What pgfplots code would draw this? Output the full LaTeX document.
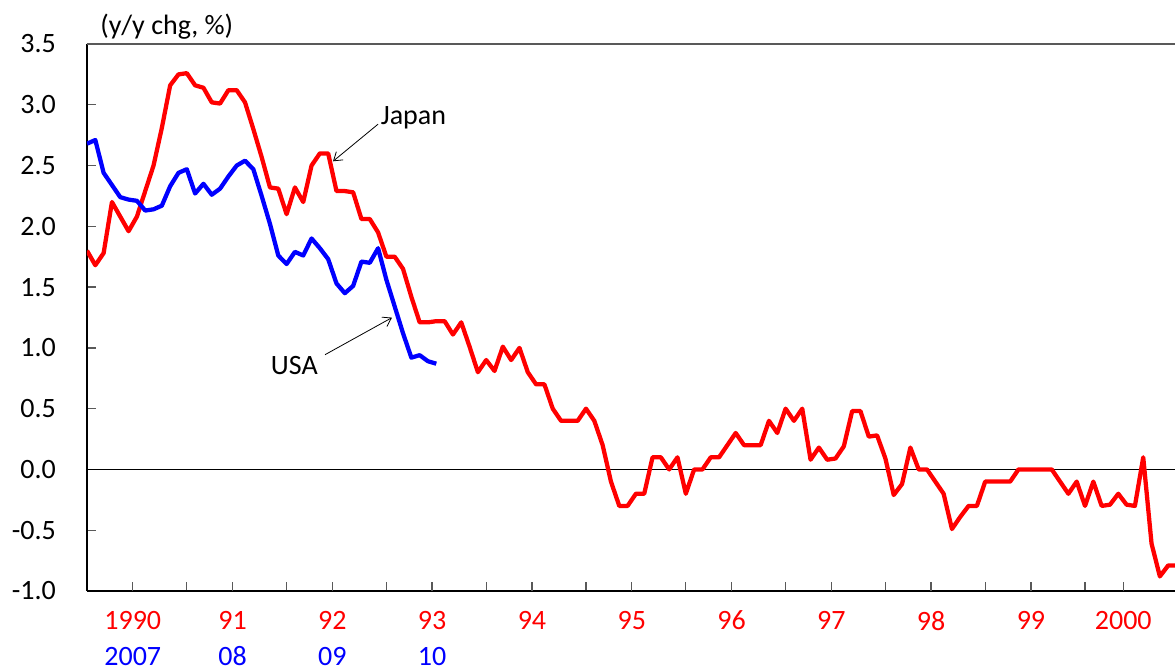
\documentclass[border=0pt]{standalone}
\usepackage{fontspec}
\setmainfont{Carlito}
\usepackage{pgfplots}
\pgfplotsset{compat=1.18}
\usetikzlibrary{arrows.meta}
\definecolor{jred}{RGB}{255,0,0}
\definecolor{ublue}{RGB}{0,0,255}
\pgfplotstableread{
i v
0 1.80
1 1.68
2 1.78
3 2.20
4 2.08
5 1.96
6 2.08
7 2.29
8 2.50
9 2.81
10 3.16
11 3.25
12 3.26
13 3.16
14 3.14
15 3.02
16 3.01
17 3.12
18 3.12
19 3.02
20 2.80
21 2.57
22 2.32
23 2.31
24 2.10
25 2.32
26 2.20
27 2.50
28 2.60
29 2.60
30 2.29
31 2.29
32 2.28
33 2.06
34 2.06
35 1.95
36 1.75
37 1.75
38 1.65
39 1.42
40 1.21
41 1.21
42 1.22
43 1.22
44 1.11
45 1.21
46 1.01
47 0.80
48 0.90
49 0.81
50 1.01
51 0.90
52 1.00
53 0.80
54 0.70
55 0.70
56 0.50
57 0.40
58 0.40
59 0.40
60 0.50
61 0.40
62 0.20
63 -0.10
64 -0.30
65 -0.30
66 -0.20
67 -0.20
68 0.10
69 0.10
70 0.00
71 0.10
72 -0.20
73 0.00
74 0.00
75 0.10
76 0.10
77 0.20
78 0.30
79 0.20
80 0.20
81 0.20
82 0.40
83 0.30
84 0.50
85 0.40
86 0.50
87 0.08
88 0.18
89 0.08
90 0.09
91 0.19
92 0.48
93 0.48
94 0.27
95 0.28
96 0.09
97 -0.21
98 -0.12
99 0.18
100 0.00
101 0.00
102 -0.10
103 -0.20
104 -0.49
105 -0.39
106 -0.30
107 -0.30
108 -0.10
109 -0.10
110 -0.10
111 -0.10
112 0.00
113 0.00
114 0.00
115 0.00
116 0.00
117 -0.10
118 -0.20
119 -0.10
120 -0.30
121 -0.10
122 -0.30
123 -0.29
124 -0.20
125 -0.29
126 -0.30
127 0.10
128 -0.61
129 -0.88
130 -0.79
131 -0.79
}\japan
\pgfplotstableread{
i v
0 2.68
1 2.71
2 2.44
3 2.34
4 2.24
5 2.22
6 2.21
7 2.13
8 2.14
9 2.17
10 2.33
11 2.44
12 2.47
13 2.27
14 2.35
15 2.26
16 2.31
17 2.41
18 2.50
19 2.54
20 2.47
21 2.25
22 2.02
23 1.76
24 1.69
25 1.79
26 1.76
27 1.90
28 1.82
29 1.73
30 1.53
31 1.45
32 1.51
33 1.71
34 1.70
35 1.82
36 1.56
37 1.34
38 1.12
39 0.92
40 0.94
41 0.89
42 0.87
}\usa
\begin{document}
\begin{tikzpicture}[font=\fontsize{21}{27}\selectfont]
\begin{axis}[
  at={(0,0)}, anchor=south west,
  scale only axis, width=816pt, height=410.25pt,
  xmin=0, xmax=130.82, ymin=-1, ymax=3.5,
  axis x line*=bottom, axis y line*=left,
  axis line style={black, line width=1.2pt},
  tick align=inside, major tick length=6.5pt,
  ytick={-1,-0.5,0,0.5,1,1.5,2,2.5,3,3.5},
  yticklabels={-1.0,-0.5,0.0,0.5,1.0,1.5,2.0,2.5,3.0,3.5},
  ytick style={draw=black!65, line width=1pt},
  yticklabel style={anchor=east, xshift=-19.8pt},
  xtick={12,24,36,48,60,72,84,96,108,120},
  xticklabels={},
  xtick style={draw=black!65, line width=1pt},
  extra x ticks={5.5,17.5,29.5,41.5,53.5,65.5,77.5,89.5,101.5,113.5,124.6},
  extra x tick labels={{\textcolor{jred}{1990}\\\textcolor{ublue}{2007}},
               {\textcolor{jred}{91}\\\textcolor{ublue}{08}},
               {\textcolor{jred}{92}\\\textcolor{ublue}{09}},
               {\textcolor{jred}{93}\\\textcolor{ublue}{10}},
               {\textcolor{jred}{94}\\\phantom{0}},
               {\textcolor{jred}{95}\\\phantom{0}},
               {\textcolor{jred}{96}\\\phantom{0}},
               {\textcolor{jred}{97}\\\phantom{0}},
               {\textcolor{jred}{98}\\\phantom{0}},
               {\textcolor{jred}{99}\\\phantom{0}},
               {\textcolor{jred}{2000}\\\phantom{0}}},
  extra x tick style={draw=none},
  xticklabel style={align=center, anchor=north, yshift=-11.5pt},
  clip mode=individual,
]
\draw[black, line width=0.9pt] (axis cs:0,0) -- (axis cs:130.82,0);
\draw[black!65, line width=1.2pt] (rel axis cs:0,1) -- (rel axis cs:1,1);
\addplot[jred, line width=3.2pt, line join=round] table[x=i,y=v] {\japan};
\addplot[ublue, line width=3.2pt, line join=round] table[x=i,y=v] {\usa};
\node[anchor=base west, inner sep=0pt] at (axis cs:35.3,2.84) {Japan};
\draw[-{Straight Barb[length=6pt,width=8pt]}, line width=0.6pt] (axis cs:34.99,2.84) -- (axis cs:29.58,2.535);
\node[anchor=base west, inner sep=0pt] at (axis cs:22.09,0.78) {USA};
\draw[-{Straight Barb[length=6pt,width=8pt]}, line width=0.6pt] (axis cs:28.62,0.944) -- (axis cs:36.67,1.249);
\node[anchor=base west, inner sep=0pt] at ([xshift=9.75pt,yshift=7.5pt]rel axis cs:0,1) {(y/y chg, \%)};
\end{axis}
\pgfresetboundingbox
\path (-65.25pt,-60pt) rectangle (816pt,443.25pt);
\end{tikzpicture}
\end{document}
